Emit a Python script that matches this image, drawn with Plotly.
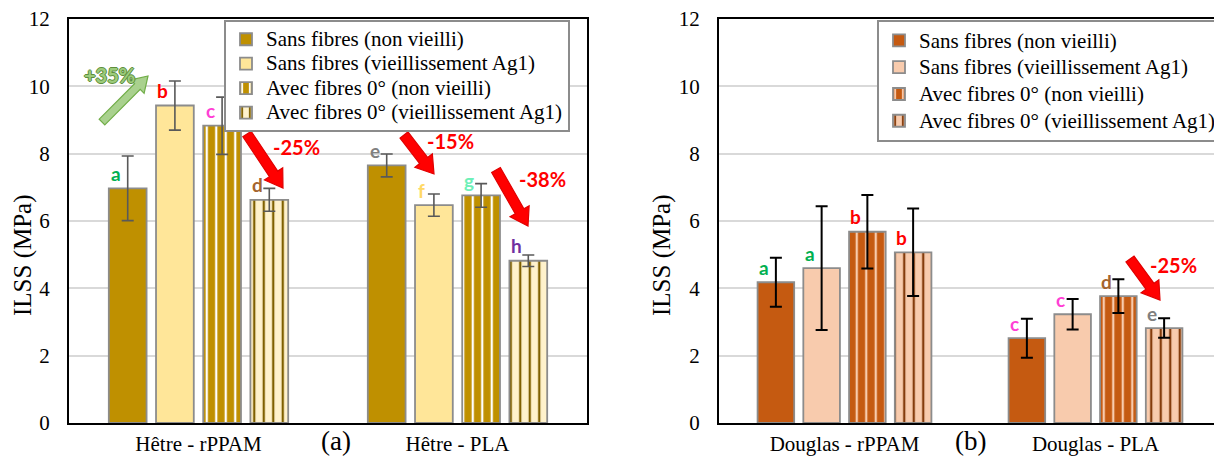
import plotly.graph_objects as go

# ---------------- data ----------------
cats_hetre = ["Hêtre - rPPAM", "Hêtre - PLA"]
cats_douglas = ["Douglas - rPPAM", "Douglas - PLA"]
series_names = ["Sans fibres (non vieilli)", "Sans fibres (vieillissement Ag1)",
                "Avec fibres 0° (non vieilli)", "Avec fibres 0° (vieillissement Ag1)"]

hetre_sf_nv = [6.97, 7.65]
hetre_sf_nv_err = [0.96, 0.34]
hetre_sf_ag = [9.43, 6.47]
hetre_sf_ag_err = [0.73, 0.33]
hetre_af_nv = [8.83, 6.76]
hetre_af_nv_err = [0.85, 0.35]
hetre_af_ag = [6.63, 4.82]
hetre_af_ag_err = [0.34, 0.17]

douglas_sf_nv = [4.18, 2.52]
douglas_sf_nv_err = [0.73, 0.58]
douglas_sf_ag = [4.60, 3.23]
douglas_sf_ag_err = [1.84, 0.45]
douglas_af_nv = [5.68, 3.77]
douglas_af_nv_err = [1.09, 0.50]
douglas_af_ag = [5.07, 2.82]
douglas_af_ag_err = [1.30, 0.29]

hetre_letters = [["a", "e"], ["b", "f"], ["c", "g"], ["d", "h"]]
douglas_letters = [["a", "c"], ["a", "c"], ["b", "d"], ["b", "e"]]

y_ticks = [0, 2, 4, 6, 8, 10, 12]
y_title = "ILSS (MPa)"

# ---------------- layout geometry ----------------
# the page body adds an 8 px offset; the figure is sized to fill the rest of the window
OFF = 8
W, H = 1222 - OFF, 460 - OFF
ML, MR, MT, MB = 69 - OFF, 1, 19 - OFF, 37
PW = W - ML - MR
PH = H - MT - MB
left_px = (69, 587)      # reference pixel x-extent of the left plot area
right_px = (719, 1221)   # reference pixel x-extent of the right plot area


def rx(x):
    return (x - OFF - ML) / PW


dom_left = [rx(left_px[0]), rx(left_px[1])]
dom_right = [rx(right_px[0]), min(1.0, rx(right_px[1]))]
BARGAP, BARGROUPGAP = 0.271, 0.20

SERIF = "Liberation Serif, Times New Roman, serif"
SANS = "Lato"

letter_colors = {"a": "#00B050", "b": "#FF0000", "c": "#FF3FD5", "d": "#A5652E",
                 "e": "#808080", "f": "#FFD966", "g": "#6EF0B8", "h": "#7030A0"}

PSIZE, PSOL = 9.5, 0.24
hetre_styles = [
    dict(color="#BF9000", pattern=None),
    dict(color="#FFE699", pattern=None),
    dict(color="#BF9000", pattern=dict(shape="|", bgcolor="#BF9000", fgcolor="#FFFFFF",
                                       size=PSIZE, solidity=PSOL, fillmode="replace")),
    dict(color="#FFF2CC", pattern=dict(shape="|", bgcolor="#FFF2CC", fgcolor="#7F6000",
                                       size=PSIZE, solidity=PSOL, fillmode="replace")),
]
douglas_styles = [
    dict(color="#C55A11", pattern=None),
    dict(color="#F8CBAD", pattern=None),
    dict(color="#C55A11", pattern=dict(shape="|", bgcolor="#C55A11", fgcolor="#F8CBAD",
                                       size=PSIZE, solidity=PSOL, fillmode="replace")),
    dict(color="#F8CBAD", pattern=dict(shape="|", bgcolor="#F8CBAD", fgcolor="#843C0C",
                                       size=PSIZE, solidity=PSOL, fillmode="replace")),
]

LEG_TEXT_PX = 21  # rendered size of legend entries

fig = go.Figure()

panels = [
    dict(cats=cats_hetre, vals=[hetre_sf_nv, hetre_sf_ag, hetre_af_nv, hetre_af_ag],
         errs=[hetre_sf_nv_err, hetre_sf_ag_err, hetre_af_nv_err, hetre_af_ag_err],
         letters=hetre_letters, styles=hetre_styles, xa="x", ya="y", legend="legend",
         errcolor="#595959", errthick=1.6, px=left_px, title_x=23),
    dict(cats=cats_douglas, vals=[douglas_sf_nv, douglas_sf_ag, douglas_af_nv, douglas_af_ag],
         errs=[douglas_sf_nv_err, douglas_sf_ag_err, douglas_af_nv_err, douglas_af_ag_err],
         letters=douglas_letters, styles=douglas_styles, xa="x2", ya="y2", legend="legend2",
         errcolor="#000000", errthick=2, px=right_px, title_x=662),
]


def px2paper(x, y):
    """reference-image pixel -> paper coordinates"""
    return (x - OFF - ML) / PW, (H - MB - (y - OFF)) / PH


annotations = []
for p in panels:
    for i in range(4):
        st = p["styles"][i]
        marker = dict(color=st["color"], line=dict(color="#8C8C8C", width=1.8))
        if st["pattern"]:
            marker["pattern"] = st["pattern"]
        fig.add_trace(go.Bar(
            x=p["cats"], y=p["vals"][i],
            name=f'<span style="font-size:{LEG_TEXT_PX}px">{series_names[i]}</span>',
            xaxis=p["xa"], yaxis=p["ya"], legend=p["legend"],
            marker=marker,
            error_y=dict(type="data", array=p["errs"][i], color=p["errcolor"],
                         thickness=p["errthick"], width=6),
            hoverinfo="skip",
        ))
    # letters over bars
    catw = (p["px"][1] - p["px"][0]) / len(p["cats"])
    slot = catw * (1 - BARGAP) / 4
    for i in range(4):
        for j, c in enumerate(p["cats"]):
            let = p["letters"][i][j]
            annotations.append(dict(
                x=c, y=p["vals"][i][j], xref=p["xa"], yref=p["ya"], text=let,
                showarrow=False, xshift=(i - 1.5) * slot - 12, yshift=15,
                xanchor="center", yanchor="middle",
                font=dict(family=SANS, size=19, color=letter_colors[let], weight="bold"),
            ))
    # y-axis title (rotated text)
    tx, ty = px2paper(p["title_x"], 255)
    annotations.append(dict(x=tx, y=ty, xref="paper", yref="paper", text=y_title,
                            textangle=-90, showarrow=False, xanchor="center",
                            yanchor="middle",
                            font=dict(family=SERIF, size=25, color="#000000")))


def block_arrow(tail, tip, sw, hw, hl, fill, line):
    tx, ty = tail
    hx, hy = tip
    dx, dy = hx - tx, hy - ty
    L = (dx * dx + dy * dy) ** 0.5
    ux, uy = dx / L, dy / L
    nx, ny = -uy, ux
    bx, by = hx - ux * hl, hy - uy * hl
    pts = [(tx + nx * sw / 2, ty + ny * sw / 2), (bx + nx * sw / 2, by + ny * sw / 2),
           (bx + nx * hw / 2, by + ny * hw / 2), (hx, hy),
           (bx - nx * hw / 2, by - ny * hw / 2), (bx - nx * sw / 2, by - ny * sw / 2),
           (tx - nx * sw / 2, ty - ny * sw / 2)]
    pp = [px2paper(a, b) for a, b in pts]
    path = "M " + " L ".join(f"{a:.5f},{b:.5f}" for a, b in pp) + " Z"
    return dict(type="path", xref="paper", yref="paper", path=path,
                fillcolor=fill, line=dict(color=line, width=1.2), layer="above")


shapes = [
    block_arrow((102, 122), (148, 76), 8, 19, 15, "#A9D18E", "#70AD47"),
    block_arrow((247, 134), (283, 188), 10, 22, 17, "#FF0000", "#E00000"),
    block_arrow((404, 135), (434, 174), 10, 22, 17, "#FF0000", "#E00000"),
    block_arrow((496, 170), (528, 226), 10, 22, 17, "#FF0000", "#E00000"),
    block_arrow((1130, 259), (1160, 300), 10, 22, 17, "#FF0000", "#E00000"),
]

pct_labels = [("+35%", 109, 75, "#9CCB7C"), ("-25%", 296, 147, "#FF0000"),
              ("-15%", 450, 141, "#FF0000"), ("-38%", 542, 179, "#FF0000"),
              ("-25%", 1173, 265, "#FF0000")]
for t, x, y, col in pct_labels:
    xp, yp = px2paper(x, y)
    f = dict(family=SANS, size=20, color=col, weight="bold")
    if t.startswith("+"):
        f["shadow"] = ("1px 0 0 #5E8E3C, -1px 0 0 #5E8E3C, 0 1px 0 #5E8E3C, "
                       "0 -1px 0 #5E8E3C")
    annotations.append(dict(x=xp, y=yp, xref="paper", yref="paper", text=t,
                            xanchor="center", yanchor="middle",
                            showarrow=False, font=f))

for lab, ax in [("(a)", "x"), ("(b)", "x2")]:
    annotations.append(dict(x=0.5 + (0.016 if ax == "x" else 0), y=-(441 - 423) / PH,
                            xref=f"{ax} domain", yref="paper", text=lab,
                            showarrow=False, xanchor="center", yanchor="middle",
                            font=dict(family=SERIF, size=27, color="#000000")))

xaxis_common = dict(showline=True, mirror=True, linecolor="#000000", linewidth=2,
                    ticks="", automargin=False, ticklabelstandoff=1,
                    ticklabeloverflow="allow",
                    tickfont=dict(family=SERIF, size=21, color="#000000"))
yaxis_common = dict(showline=True, mirror=True, linecolor="#000000", linewidth=2,
                    ticks="", automargin=False, ticklabelstandoff=13,
                    ticklabeloverflow="allow",
                    tickfont=dict(family=SERIF, size=21, color="#000000"),
                    range=[0, 12], tickvals=y_ticks, showgrid=True,
                    gridcolor="#D9D9D9", gridwidth=2, zeroline=False)
legend_common = dict(bgcolor="#FFFFFF", bordercolor="#8C8C8C", borderwidth=2,
                     xanchor="left", yanchor="top", tracegroupgap=0, itemwidth=30)

lx, ly = px2paper(224, 20)
rx2, ry2 = px2paper(877, 20)
fig.update_layout(
    width=W, height=H, margin=dict(l=ML, r=MR, t=MT, b=MB, pad=0, autoexpand=False),
    font=dict(family=SERIF, color="#000000"),
    paper_bgcolor="#FFFFFF", plot_bgcolor="#FFFFFF",
    barmode="group", bargap=BARGAP, bargroupgap=BARGROUPGAP,
    xaxis=dict(xaxis_common, domain=dom_left, anchor="y"),
    yaxis=dict(yaxis_common, anchor="x"),
    xaxis2=dict(xaxis_common, domain=dom_right, anchor="y2"),
    yaxis2=dict(yaxis_common, anchor="x2"),
    legend=dict(legend_common, x=lx, y=ly,
                font=dict(family=SERIF, size=16.5, color="#000000")),
    legend2=dict(legend_common, x=rx2, y=ry2,
                 font=dict(family=SERIF, size=18.3, color="#000000")),
    annotations=annotations,
    shapes=shapes,
    showlegend=True,
)

fig.write_html("out.html")
